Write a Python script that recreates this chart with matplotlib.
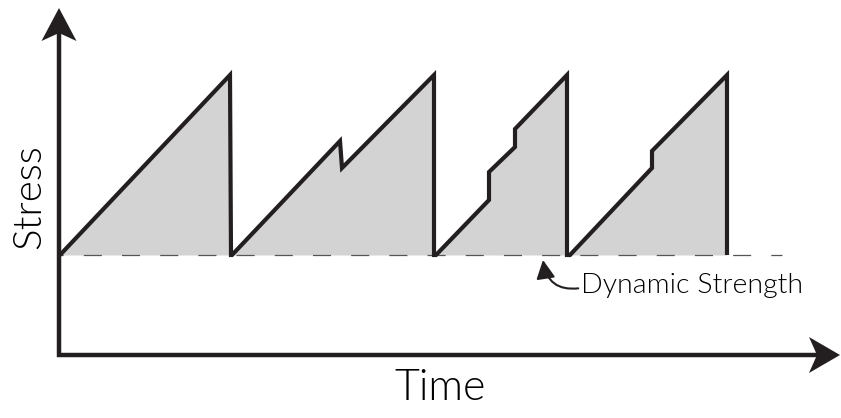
import matplotlib
matplotlib.use('Agg')
import matplotlib.pyplot
from matplotlib.patches import Polygon

# stress history (arbitrary units), sawtooth with small slip events
time_pts = [0.01, 1.71, 1.72,
            1.73, 2.81, 2.83, 3.75, 3.75,
            3.77, 4.30, 4.30, 4.56, 4.56, 5.08, 5.08,
            5.11, 5.93, 5.93, 6.68, 6.68]
stress_pts = [1.00, 2.80, 1.00,
              1.00, 2.14, 1.87, 2.80, 1.00,
              1.00, 1.55, 1.83, 2.08, 2.26, 2.80, 1.00,
              1.00, 1.87, 2.04, 2.80, 1.00]
dynamic_strength = 1.0
strength_line_end = 7.23

axis_x_end = 7.6
axis_y_end = 3.3
x_label = 'Time'
y_label = 'Stress'
strength_label = 'Dynamic Strength'

ink = '#231f20'
fill_grey = '#d3d3d3'

matplotlib.rcParams['lines.scale_dashes'] = False
matplotlib.rcParams['font.family'] = ['Lato', 'DejaVu Sans']

fig = matplotlib.pyplot.figure(figsize=(8.41, 4.18), dpi=100)
ax = fig.add_axes([0, 0, 1, 1])
ax.set_xlim(-0.59, 7.82)
ax.set_ylim(-0.63, 3.55)
ax.axis('off')

# shaded area between stress curve and dynamic strength
ax.fill_between(time_pts, stress_pts, dynamic_strength, color=fill_grey, lw=0, zorder=1)

# dynamic strength reference line
ax.plot([0, strength_line_end], [dynamic_strength, dynamic_strength], color='#555555',
        lw=0.9, linestyle=(10, (13, 14.5)), zorder=2)

# stress curve
ax.plot(time_pts, stress_pts, color=ink, lw=3.0, solid_joinstyle='miter',
        solid_capstyle='butt', zorder=3)

# axes with arrow heads
ax.plot([0, 0, axis_x_end], [axis_y_end, 0, 0], color=ink, lw=3.2,
        solid_joinstyle='miter', solid_capstyle='butt', zorder=4)
ax.add_patch(Polygon([(0, 3.47), (-0.175, 3.14), (0, 3.22), (0.175, 3.14)],
                     closed=True, color=ink, lw=0, zorder=5))
ax.add_patch(Polygon([(7.81, 0), (7.50, 0.18), (7.58, 0), (7.50, -0.18)],
                     closed=True, color=ink, lw=0, zorder=5))

# labels
ax.text(3.81, -0.33, x_label, fontsize=31, fontweight=300,
        ha='center', va='center', color='black')
ax.text(-0.30, 1.58, y_label, fontsize=29, fontweight=300,
        ha='center', va='center', rotation=90, color='black')
ax.annotate(strength_label, xy=(4.84, 0.95), xytext=(5.22, 0.62),
            fontsize=20.5, fontweight=300, ha='left', va='baseline', color='black',
            arrowprops=dict(arrowstyle='-|>,head_length=0.55,head_width=0.28',
                            connectionstyle='arc3,rad=-0.5', color=ink, lw=1.5,
                            shrinkA=0, shrinkB=0, relpos=(0, 0.4)))

fig.savefig('out.png', dpi=100)
